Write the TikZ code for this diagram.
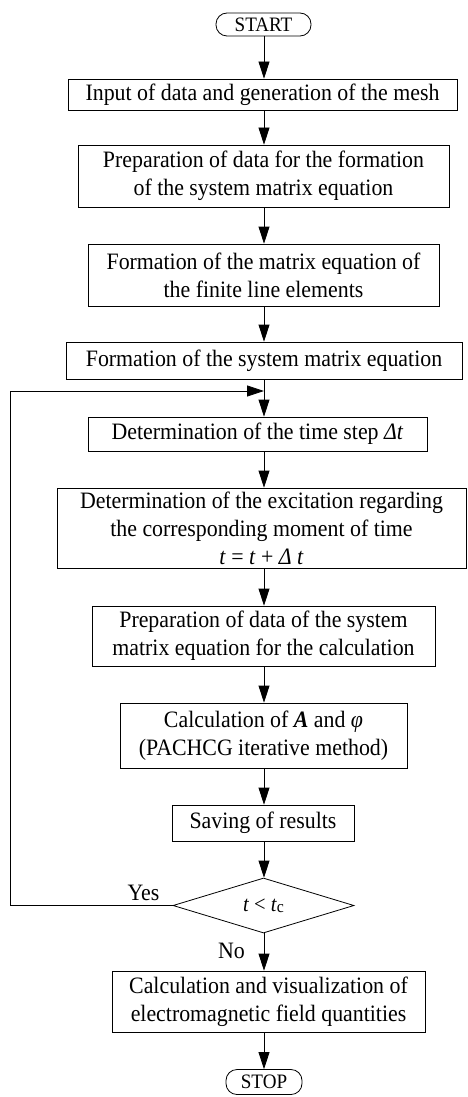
\documentclass[tikz,border=0pt]{standalone}
\usepackage{fontspec}
\setmainfont{Liberation Serif}[FakeStretch=0.93]
\usetikzlibrary{arrows.meta,shapes.geometric}
\tikzset{
  box/.style={draw, line width=0.8pt, inner sep=0pt, align=center, font=\fontsize{23.5}{28}\selectfont},
  term/.style={box, rounded corners=11pt, font=\fontsize{20.5}{22}\selectfont},
  dec/.style={draw, line width=0.8pt, diamond, inner sep=0pt, font=\fontsize{22}{24}\selectfont},
  arr/.style={line width=0.8pt, -{Triangle[length=17pt,width=11pt]}},
  lbl/.style={inner sep=0pt, font=\fontsize{23.5}{26}\selectfont}
}
\begin{document}
\begin{tikzpicture}[x=1pt,y=-1pt]
\useasboundingbox (0,0) rectangle (467,1097);
\coordinate (col) at (264,0);
\coordinate (lft) at (10,0);
\coordinate (loopin) at (264,391);

\node[term, minimum width=95pt, minimum height=23pt] (start) at (263.5,24.5) {START};
\node[box, minimum width=389pt, minimum height=31pt] (b1) at (262.5,94.5) {Input of data and generation of the mesh};
\node[box, minimum width=371pt, minimum height=62pt] (b2) at (263.5,176) {Preparation of data for the formation\\of the system matrix equation};
\node[box, minimum width=351pt, minimum height=62pt] (b3) at (263.5,275) {Formation of the matrix equation of\\the finite line elements};
\node[box, minimum width=396pt, minimum height=37pt] (b4) at (264,360.5) {Formation of the system matrix equation};
\node[box, minimum width=339pt, minimum height=34pt] (b5) at (257.5,434) {Determination of the time step \textit{Δt}};
\node[box, minimum width=409pt, minimum height=80pt] (b6) at (261.5,528) {Determination of the excitation regarding\\the corresponding moment of time\\\textit{t} = \textit{t} + \textit{Δ t}};
\node[box, minimum width=343pt, minimum height=60pt] (b7) at (263.5,636) {Preparation of data of the system\\matrix equation for the calculation};
\node[box, minimum width=287pt, minimum height=65pt] (b8) at (263.5,735.5) {Calculation of \textbf{\textit{A}} and \textit{φ}\\(PACHCG iterative method)};
\node[box, minimum width=182pt, minimum height=36pt] (b9) at (263,823) {Saving of results};
\node[dec, minimum width=181pt, minimum height=55pt] (dia) at (263.5,905.5) {\textit{t} < \textit{t}\raisebox{-1pt}{\fontsize{17}{17}\selectfont c}};
\node[box, minimum width=313pt, minimum height=61pt] (b10) at (268.5,1001.5) {Calculation and visualization of\\electromagnetic field quantities};
\node[term, minimum width=76pt, minimum height=25pt] (stop) at (264,1082) {STOP};

\node[lbl] (yes) at (143.5,893) {Yes};
\node[lbl] (no) at (231.5,951) {No};

\draw[arr] (start.south -| col) -- (b1.north -| col);
\draw[arr] (b1.south -| col) -- (b2.north -| col);
\draw[arr] (b2.south -| col) -- (b3.north -| col);
\draw[arr] (b3.south -| col) -- (b4.north -| col);
\draw[arr] (b4.south -| col) -- (b5.north -| col);
\draw[arr] (b5.south -| col) -- (b6.north -| col);
\draw[arr] (b6.south -| col) -- (b7.north -| col);
\draw[arr] (b7.south -| col) -- (b8.north -| col);
\draw[arr] (b8.south -| col) -- (b9.north -| col);
\draw[arr] (b9.south -| col) -- (dia.north -| col);
\draw[arr] (dia.south -| col) -- (b10.north -| col);
\draw[arr] (b10.south -| col) -- (stop.north -| col);
\draw[arr] (dia.west) -- (dia.west -| lft) |- (loopin);
\end{tikzpicture}
\end{document}
